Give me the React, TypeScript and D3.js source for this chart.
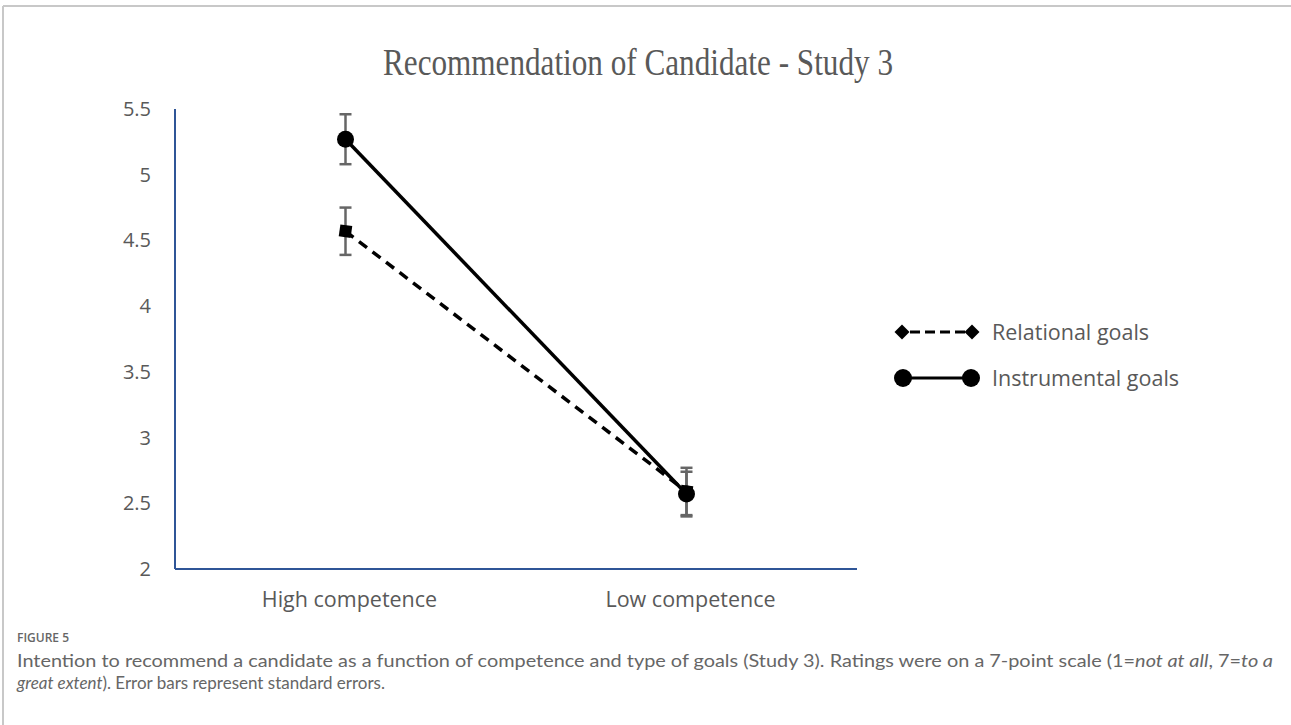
import React from "react";
import * as d3 from "d3";

// data
const categories = ["High competence", "Low competence"];
const relationalMeans = [4.57, 2.59];
const relationalSE = [0.18, 0.18];
const instrumentalMeans = [5.27, 2.57];
const instrumentalSE = [0.19, 0.17];
const yTicks = [2, 2.5, 3, 3.5, 4, 4.5, 5, 5.5];

const W = 1291;
const H = 725;
const plot = { left: 175, right: 857, top: 109, bottom: 569 };
const labelFont = "'Open Sans', 'Noto Sans', sans-serif";
const captionFont = "Lato, 'Open Sans', sans-serif";
const grey = "#595959";

const App = () => {
  const x = d3
    .scalePoint<string>()
    .domain(categories)
    .range([plot.left, plot.right])
    .padding(0.5);

  const y = d3.scaleLinear().domain([2, 5.5]).range([plot.bottom, plot.top]);

  const line = d3
    .line<number>()
    .x((d, i) => x(categories[i]) as number)
    .y((d) => y(d));

  const series = [
    { name: "Relational goals", means: relationalMeans, se: relationalSE, dash: "10,7", marker: "square" },
    { name: "Instrumental goals", means: instrumentalMeans, se: instrumentalSE, dash: null, marker: "circle" },
  ];

  const diamond = (cx: number, cy: number, r: number) =>
    `M${cx},${cy - r}L${cx + r},${cy}L${cx},${cy + r}L${cx - r},${cy}Z`;

  return (
    <svg width={W} height={H} style={{ position: "absolute", left: 0, top: 0 }}>
      <rect width={W} height={H} fill="#fff" />
      {/* frame */}
      <line x1={3} x2={W} y1={6} y2={6} stroke="#c8c8c8" strokeWidth={2} />
      <line x1={3} x2={3} y1={6} y2={H} stroke="#c8c8c8" strokeWidth={2} />

      <text
        x={638}
        y={75}
        textAnchor="middle"
        fontFamily="'Liberation Serif', 'DejaVu Serif', serif"
        fontSize={37}
        textLength={510}
        lengthAdjust="spacingAndGlyphs"
        fill={grey}
      >
        Recommendation of Candidate - Study 3
      </text>

      {/* y tick labels */}
      {yTicks.map((t) => (
        <text
          key={t}
          x={151}
          y={y(t)}
          dy="0.35em"
          textAnchor="end"
          fontFamily={labelFont}
          fontSize={20}
          fill={grey}
        >
          {t}
        </text>
      ))}

      {/* axes */}
      <line x1={plot.left} x2={plot.left} y1={plot.top} y2={plot.bottom} stroke="#2f5597" strokeWidth={2} />
      <line x1={plot.left} x2={plot.right} y1={plot.bottom} y2={plot.bottom} stroke="#2f5597" strokeWidth={2} />

      {categories.map((c) => (
        <text
          key={c}
          x={(x(c) as number) + 4}
          y={607}
          textAnchor="middle"
          fontFamily={labelFont}
          fontSize={21.5}
          fill={grey}
        >
          {c}
        </text>
      ))}

      {/* error bars */}
      {series.map((s) =>
        s.means.map((m, i) => {
          const cx = x(categories[i]) as number;
          return (
            <g key={s.name + i} stroke="#666" strokeWidth={2.5}>
              <line x1={cx} x2={cx} y1={y(m + s.se[i])} y2={y(m - s.se[i])} />
              <line x1={cx - 6} x2={cx + 6} y1={y(m + s.se[i])} y2={y(m + s.se[i])} />
              <line x1={cx - 6} x2={cx + 6} y1={y(m - s.se[i])} y2={y(m - s.se[i])} />
            </g>
          );
        })
      )}

      {/* lines and markers */}
      {series.map((s) => (
        <g key={s.name}>
          <path
            d={line(s.means) as string}
            fill="none"
            stroke="#000"
            strokeWidth={3.5}
            strokeDasharray={s.dash ?? undefined}
          />
          {s.means.map((m, i) => {
            const cx = x(categories[i]) as number;
            return s.marker === "circle" ? (
              <circle key={i} cx={cx} cy={y(m)} r={8.5} fill="#000" />
            ) : (
              <rect key={i} x={cx - 6} y={y(m) - 6} width={12} height={12} fill="#000" transform={`rotate(8 ${cx} ${y(m)})`} />
            );
          })}
        </g>
      ))}

      {/* legend */}
      {series.map((s, i) => {
        const ly = 332 + i * 46;
        return (
          <g key={s.name}>
            <line
              x1={902}
              x2={971}
              y1={ly}
              y2={ly}
              stroke="#000"
              strokeWidth={3}
              strokeDasharray={s.dash ? "10,5" : undefined}
              strokeDashoffset={s.dash ? -8 : undefined}
            />
            {s.marker === "circle" ? (
              <>
                <circle cx={903} cy={ly} r={9} fill="#000" />
                <circle cx={971} cy={ly} r={9} fill="#000" />
              </>
            ) : (
              <>
                <path d={diamond(902, ly, 7.5)} fill="#000" />
                <path d={diamond(972, ly, 7.5)} fill="#000" />
              </>
            )}
            <text x={992} y={ly} dy="0.35em" fontFamily={labelFont} fontSize={21.5} fill={grey}>
              {s.name}
            </text>
          </g>
        );
      })}

      {/* caption */}
      <text x={17} y={642} fontFamily={labelFont} fontSize={12} fontWeight={600} fill="#666">
        FIGURE 5
      </text>
      <text
        x={17}
        y={667}
        fontFamily={captionFont}
        fontSize={17}
        textLength={1256}
        lengthAdjust="spacingAndGlyphs"
        fill="#666"
      >
        Intention to recommend a candidate as a function of competence and type of goals (Study 3). Ratings were on a 7-point scale (1=
        <tspan fontStyle="italic">not at all</tspan>, 7=<tspan fontStyle="italic">to a</tspan>
      </text>
      <text
        x={17}
        y={689}
        fontFamily={captionFont}
        fontSize={17}
        textLength={368}
        lengthAdjust="spacingAndGlyphs"
        fill="#666"
      >
        <tspan fontStyle="italic">great extent</tspan>). Error bars represent standard errors.
      </text>
    </svg>
  );
};

export default App;
